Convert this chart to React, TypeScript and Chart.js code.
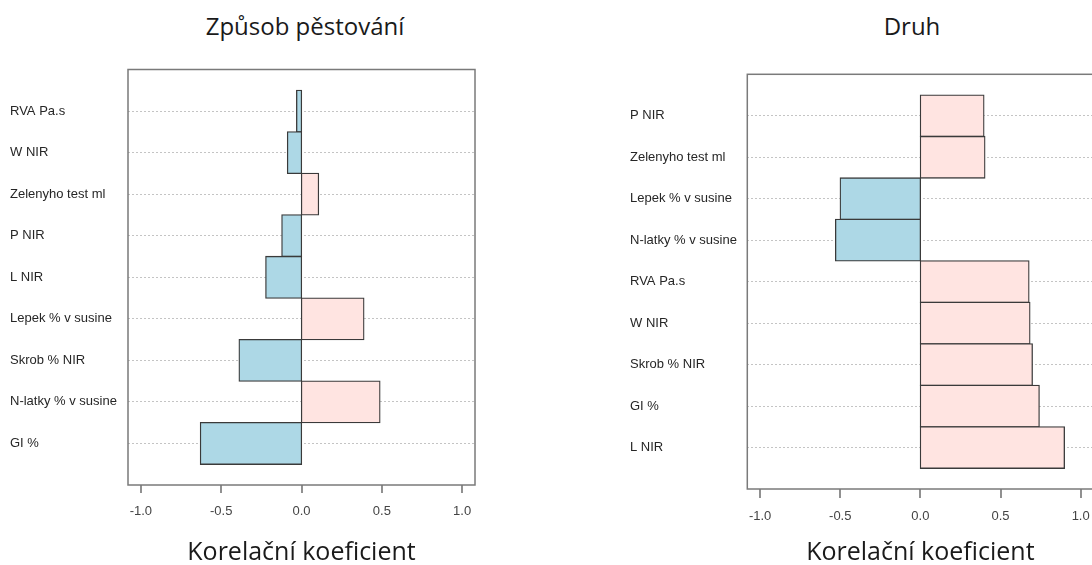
import React, { useEffect, useRef } from "react";
import { Chart, registerables } from "chart.js";

Chart.register(...registerables);

// ---- data ----
const leftTitle = "Způsob pěstování";
const rightTitle = "Druh";
const xAxisTitle = "Korelační koeficient";

const leftCategories = [
  "RVA Pa.s",
  "W NIR",
  "Zelenyho test ml",
  "P NIR",
  "L NIR",
  "Lepek % v susine",
  "Skrob % NIR",
  "N-latky % v susine",
  "GI %",
];
const leftValues = [-0.03, -0.087, 0.106, -0.122, -0.222, 0.388, -0.388, 0.488, -0.629];

const rightCategories = [
  "P NIR",
  "Zelenyho test ml",
  "Lepek % v susine",
  "N-latky % v susine",
  "RVA Pa.s",
  "W NIR",
  "Skrob % NIR",
  "GI %",
  "L NIR",
];
const rightValues = [0.396, 0.402, -0.5, -0.529, 0.677, 0.683, 0.698, 0.741, 0.898];

const xTickValues = [-1, -0.5, 0, 0.5, 1];

// ---- styles ----
const NEG_COLOR = "#add8e6";
const POS_COLOR = "#ffe4e1";
const LABEL_FONT = '"Liberation Sans", Arial, sans-serif';
const TITLE_FONT = '"Open Sans", "Noto Sans", sans-serif';
const BAR_BORDER = 1.3;

const boxPlugin = {
  id: "plotBox",
  afterDraw(chart: any) {
    const { ctx, chartArea } = chart;
    const { left, top, right, bottom } = chartArea;
    ctx.save();
    ctx.strokeStyle = "#7a7a7a";
    ctx.lineWidth = 1.5;
    ctx.strokeRect(left, top, right - left, bottom - top);
    ctx.restore();
  },
};

type PanelProps = {
  labels: string[];
  values: number[];
  canvasLeft: number;
  canvasWidth: number;
  padLeft: number;
  padRight: number;
  padTop: number;
  yAxisWidth: number;
  xAxisHeight: number;
  tickLength: number;
  tickPadding: number;
  xTitleBottom: number;
};

function BarPanel(p: PanelProps) {
  const ref = useRef<HTMLCanvasElement>(null);
  useEffect(() => {
    const chart = new Chart(ref.current as HTMLCanvasElement, {
      type: "bar",
      data: {
        datasets: [
          {
            data: p.values.map((v, i) => ({ x: v, y: i })),
            backgroundColor: p.values.map((v) => (v < 0 ? NEG_COLOR : POS_COLOR)),
            borderColor: "#3a3a3a",
            borderWidth: BAR_BORDER,
            borderSkipped: false,
            inflateAmount: BAR_BORDER / 2,
            barPercentage: 1,
            categoryPercentage: 1,
          } as any,
        ],
      },
      options: {
        indexAxis: "y",
        responsive: false,
        animation: false,
        events: [],
        layout: {
          padding: { left: p.padLeft, right: p.padRight, top: p.padTop, bottom: 0 },
        },
        plugins: {
          legend: { display: false },
          tooltip: { enabled: false },
          title: { display: false },
        },
        scales: {
          x: {
            type: "linear",
            min: -1.08,
            max: 1.08,
            afterBuildTicks: (s: any) => {
              s.ticks = xTickValues.map((v) => ({ value: v }));
            },
            afterFit: (s: any) => {
              s.height = p.xAxisHeight;
            },
            grid: {
              display: true,
              drawOnChartArea: false,
              drawTicks: true,
              tickLength: p.tickLength,
              lineWidth: 0,
              tickWidth: 1.3,
              tickColor: "#555",
            },
            border: { display: false },
            ticks: {
              padding: p.tickPadding,
              color: "#444",
              font: { family: LABEL_FONT, size: 13 },
              autoSkip: false,
              maxRotation: 0,
              callback: (v: any) => Number(v).toFixed(1),
            },
            title: {
              display: true,
              text: xAxisTitle,
              color: "#1a1a1a",
              font: { family: TITLE_FONT, size: 25, lineHeight: 1 },
              padding: { top: 0, bottom: p.xTitleBottom },
            },
          },
          y: {
            type: "linear",
            reverse: true,
            offset: false,
            min: -1,
            max: p.labels.length,
            afterBuildTicks: (s: any) => {
              s.ticks = p.labels.map((_, i) => ({ value: i }));
            },
            afterFit: (s: any) => {
              s.width = p.yAxisWidth;
            },
            grid: {
              display: true,
              offset: false,
              drawTicks: false,
              color: "#c4c4c4",
              lineWidth: 1,
            },
            border: { display: false, dash: [2, 2] },
            ticks: {
              crossAlign: "far",
              padding: 0,
              color: "#262626",
              font: { family: LABEL_FONT, size: 13 },
              autoSkip: false,
              callback: (v: any) => p.labels[Number(v)] ?? "",
            },
          },
        },
      } as any,
      plugins: [boxPlugin],
    });
    return () => chart.destroy();
  }, []);
  return (
    <canvas
      ref={ref}
      width={p.canvasWidth}
      height={565}
      style={{ position: "absolute", left: p.canvasLeft, top: 0, width: p.canvasWidth, height: 565 }}
    />
  );
}

const titleStyle: React.CSSProperties = {
  position: "absolute",
  transform: "translateX(-50%)",
  fontFamily: TITLE_FONT,
  fontSize: 24,
  lineHeight: "24px",
  whiteSpace: "nowrap",
  color: "#1a1a1a",
};

export default function App() {
  return (
    <div
      style={{
        position: "fixed",
        left: 0,
        top: 0,
        width: 1092,
        height: 565,
        overflow: "hidden",
        background: "#fff",
      }}
    >
      <div style={{ ...titleStyle, left: 305, top: 14 }}>{leftTitle}</div>
      <div style={{ ...titleStyle, left: 912, top: 14 }}>{rightTitle}</div>
      <BarPanel
        labels={leftCategories}
        values={leftValues}
        canvasLeft={0}
        canvasWidth={546}
        padLeft={10}
        padRight={71}
        padTop={69.5}
        yAxisWidth={118}
        xAxisHeight={80}
        tickLength={8}
        tickPadding={11}
        xTitleBottom={0}
      />
      <BarPanel
        labels={rightCategories}
        values={rightValues}
        canvasLeft={546}
        canvasWidth={560}
        padLeft={84}
        padRight={12.5}
        padTop={74.3}
        yAxisWidth={117.3}
        xAxisHeight={76}
        tickLength={9}
        tickPadding={11}
        xTitleBottom={0}
      />
    </div>
  );
}
